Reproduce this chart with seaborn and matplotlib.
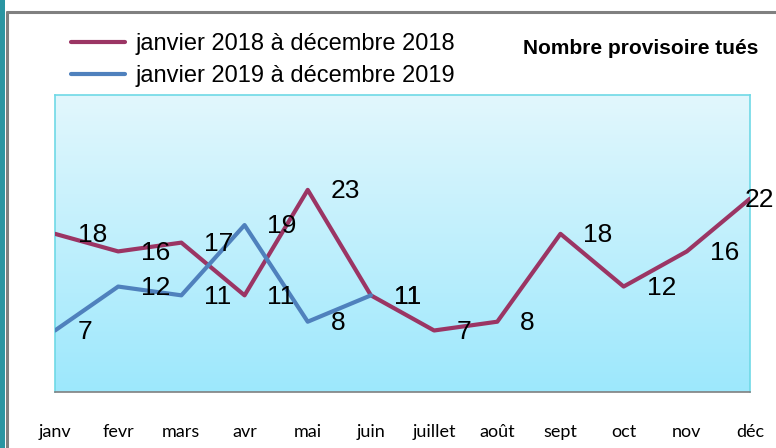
import numpy as np
import pandas as pd
import matplotlib
matplotlib.use("Agg")
import matplotlib.pyplot as plt
import seaborn as sns
from matplotlib.patches import Rectangle
from matplotlib.lines import Line2D
from matplotlib.colors import LinearSegmentedColormap

months = ["janv", "fevr", "mars", "avr", "mai", "juin", "juillet", "août",
          "sept", "oct", "nov", "déc"]
vals_2018 = [18, 16, 17, 11, 23, 11, 7, 8, 18, 12, 16, 22]
vals_2019 = [7, 12, 11, 19, 8, 11]
label_2018 = "janvier 2018 à décembre 2018"
label_2019 = "janvier 2019 à décembre 2019"
title = "Nombre provisoire tués"

sns.set_theme(style="white")
plt.rcParams["font.family"] = ["Liberation Sans", "DejaVu Sans"]
plt.rcParams["text.color"] = "black"
plt.rcParams["xtick.color"] = "black"
plt.rcParams["xtick.labelcolor"] = "black"

df = pd.concat([
    pd.DataFrame({"idx": range(len(vals_2018)), "val": vals_2018, "serie": label_2018}),
    pd.DataFrame({"idx": range(len(vals_2019)), "val": vals_2019, "serie": label_2019}),
])

W, H = 776, 448
fig = plt.figure(figsize=(W / 100, H / 100), dpi=100)
fig.patch.set_facecolor("white")

# outer decorations
fig.add_artist(Rectangle((0, 0), 4.5 / W, 1, transform=fig.transFigure,
                         facecolor="#2A95A2", edgecolor="none", zorder=0))
fig.add_artist(Line2D([7 / W, 7 / W], [0, 1 - 12 / H], transform=fig.transFigure,
                      color="#808080", lw=2.2, zorder=1))
fig.add_artist(Line2D([7 / W, 1], [1 - 12 / H, 1 - 12 / H], transform=fig.transFigure,
                      color="#808080", lw=2.2, zorder=1))

left, right, top, bottom = 55, 750, 95, 392
ax = fig.add_axes([left / W, 1 - bottom / H, (right - left) / W, (bottom - top) / H])

colors = {label_2018: "#9B3564", label_2019: "#4F81BD"}
sns.lineplot(data=df, x="idx", y="val", hue="serie", palette=colors, ax=ax,
             linewidth=3.0, legend=True, zorder=3)

YMAX = 33.8
# gradient background (top light, bottom deeper cyan)
grad = np.linspace(0, 1, 256).reshape(-1, 1)
cmap = LinearSegmentedColormap.from_list("g", ["#9DE8FC", "#E2F7FD"])
ax.imshow(grad, extent=(0, 11, 0, YMAX), aspect="auto", cmap=cmap, zorder=0,
          origin="lower")
ax.set_xlim(0, 11)
ax.set_ylim(0, YMAX)

for s in ["left", "top", "right"]:
    ax.spines[s].set_color("#6FD9E6")
    ax.spines[s].set_linewidth(1.2)
ax.spines["bottom"].set_color("#808080")
ax.spines["bottom"].set_linewidth(1.2)

ax.set_yticks([])
ax.set_xticks(range(len(months)))
ax.set_xticklabels(months, fontsize=13, family=["Lato", "DejaVu Sans"], color="black")
ax.tick_params(axis="x", length=0, pad=23)
ax.set_xlabel("")
ax.set_ylabel("")

# data labels
for vals in (vals_2018, vals_2019):
    for i, v in enumerate(vals):
        dx = 16.5 if i < 11 else -4
        ax.annotate(str(v), (i, v), xytext=(dx, -1), textcoords="offset points",
                    ha="left", va="center", fontsize=19, color="black", zorder=5,
                    annotation_clip=False)

handles, labels = ax.get_legend_handles_labels()
ax.get_legend().remove()
fig.legend(handles, labels, loc="upper left", bbox_to_anchor=(71 / W, 1 - 33 / H),
           frameon=False, fontsize=17, handlelength=2.3, handletextpad=0.45,
           labelspacing=0.42, borderpad=0, borderaxespad=0)

fig.text(758 / W, 1 - 48 / H, title, ha="right", va="center", fontsize=15,
         fontweight="bold", color="black")

fig.savefig("out.png", dpi=100)
